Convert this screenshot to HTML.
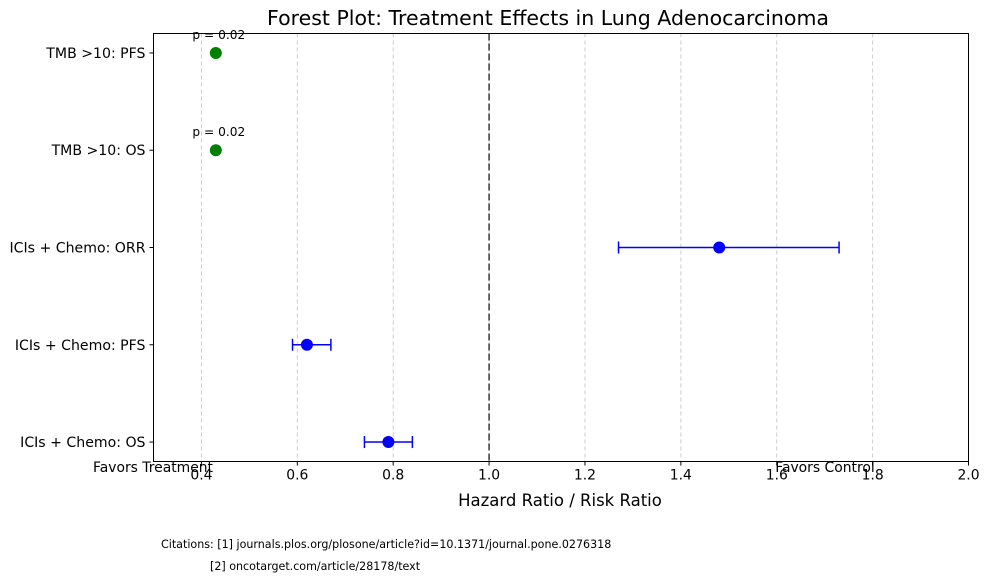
<!DOCTYPE html>
<html><head><meta charset="utf-8"><style>
body{margin:0;background:#fff;}
svg{font-family:"DejaVu Sans","Liberation Sans",sans-serif;}
</style></head><body>
<svg id="chart" width="989" height="581" viewBox="0 0 989 581">
<rect x="0" y="0" width="989" height="581" fill="#fff"/>
<text x="548" y="25" font-size="20.5" text-anchor="middle">Forest Plot: Treatment Effects in Lung Adenocarcinoma</text>
<g id="grid"></g>
<g id="marks"></g>
<rect x="153.5" y="33.5" width="815" height="428" fill="none" stroke="#000" stroke-width="1"/>
<g id="xticks"></g>
<g id="yticks"></g>
<text x="153" y="472" font-size="13.9" text-anchor="middle">Favors Treatment</text>
<text x="825" y="472" font-size="13.9" text-anchor="middle">Favors Control</text>
<text x="560" y="506" font-size="16.5" text-anchor="middle">Hazard Ratio / Risk Ratio</text>
<text x="161" y="548" font-size="11.1">Citations: [1] journals.plos.org/plosone/article?id=10.1371/journal.pone.0276318</text>
<text x="210" y="570" font-size="11.1">[2] oncotarget.com/article/28178/text</text>
</svg>
<script>
const categories = ["ICIs + Chemo: OS","ICIs + Chemo: PFS","ICIs + Chemo: ORR","TMB >10: OS","TMB >10: PFS"];
const estimates = [0.79,0.62,1.48,0.43,0.43];
const lowerCI = [0.74,0.59,1.27,null,null];
const upperCI = [0.84,0.67,1.73,null,null];
const pLabels = [null,null,null,"p = 0.02","p = 0.02"];
const colors = ["blue","blue","blue","green","green"];
const xTicks = [0.4,0.6,0.8,1.0,1.2,1.4,1.6,1.8,2.0];
const xTickLabels = ["0.4","0.6","0.8","1.0","1.2","1.4","1.6","1.8","2.0"];

const NS="http://www.w3.org/2000/svg";
const L=153.5,R=968.5,T=33.5,B=461.5;
const xMin=0.3,xMax=2.0,yMin=-0.2,yMax=4.2;
const xs=v=>L+(v-xMin)/(xMax-xMin)*(R-L);
const ys=i=>B-(i-yMin)/(yMax-yMin)*(B-T);
function mk(tag,attrs,parent,text){const e=document.createElementNS(NS,tag);for(const k in attrs)e.setAttribute(k,attrs[k]);if(text!=null)e.textContent=text;document.getElementById(parent).appendChild(e);return e;}

xTicks.forEach((v,i)=>{
  const g=mk('line',{x1:xs(v),x2:xs(v),y1:T,y2:B,stroke:'#ccc','stroke-dasharray':'4,3','stroke-width':1},'grid');
  
  
  const t=mk('line',{x1:xs(v),x2:xs(v),y1:B,y2:B+4,stroke:'#000'},'xticks');
  
  
  const l=mk('text',{x:xs(v),y:B+18,'font-size':13.9,'text-anchor':'middle'},'xticks',xTickLabels[i]);
  
  
});
const ref=mk('line',{x1:xs(1),x2:xs(1),y1:T,y2:B,stroke:'#444','stroke-dasharray':'7,3','stroke-width':1.6},'grid');



categories.forEach((c,i)=>{
  const y=ys(i);
  const t=mk('line',{x1:L-4,x2:L,y1:y,y2:y,stroke:'#000'},'yticks');
  
  
  const l=mk('text',{x:L-8,y:y+5,'font-size':14.1,'text-anchor':'end'},'yticks',c);
  
  
  if(lowerCI[i]!=null){
    const ci=mk('line',{x1:xs(lowerCI[i]),x2:xs(upperCI[i]),y1:y,y2:y,stroke:colors[i],'stroke-width':1.5},'marks');
    
    
    [lowerCI[i],upperCI[i]].forEach(v=>{
      const cap=mk('line',{x1:xs(v),x2:xs(v),y1:y-6,y2:y+6,stroke:colors[i],'stroke-width':1.5},'marks');
      
      
    });
  }
  const p=mk('circle',{cx:xs(estimates[i]),cy:y,r:6,fill:colors[i]},'marks');
  
  
  if(pLabels[i]){
    const pl=mk('text',{x:xs(estimates[i])+3,y:y-14,'font-size':12.2,'text-anchor':'middle'},'marks',pLabels[i]);
    
    
  }
});
</script>
</body></html>
